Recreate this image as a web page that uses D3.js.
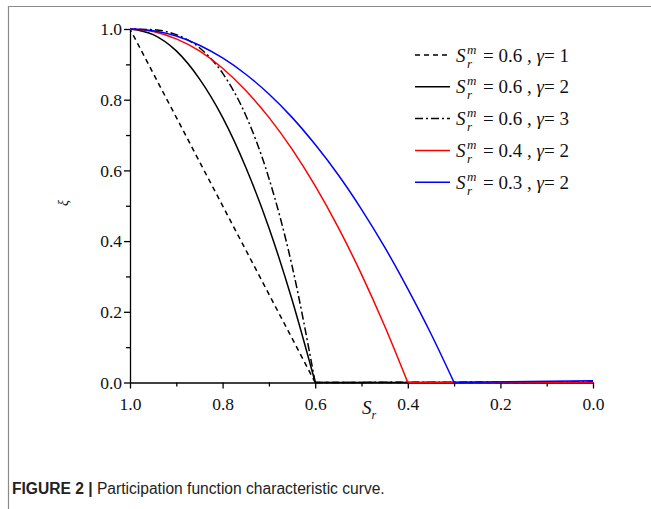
<!DOCTYPE html>
<html>
<head>
<meta charset="utf-8">
<script src="https://cdn.jsdelivr.net/npm/d3@7/dist/d3.min.js"></script>
<style>
  body { margin: 0; background: #fff; }
  svg { display: block; }
  .serif, .serif text { font-family: "Liberation Serif", "Times New Roman", serif; }
  .sans { font-family: "Liberation Sans", Arial, sans-serif; }
</style>
</head>
<body>
<div id="chart"></div>
<script>
// values
var srGrid = [1.0, 0.95, 0.9, 0.85, 0.8, 0.75, 0.7, 0.65, 0.6, 0.55, 0.5, 0.45, 0.4, 0.35, 0.3, 0.0];

var seriesA = [1.0, null, null, null, null, null, null, null, 0.0, null, null, null, null, null, null, 0.0];           // Srm 0.6, g=1
var seriesB = [1.0, 0.984, 0.938, 0.859, 0.75, 0.609, 0.438, 0.234, 0.0, null, null, null, null, null, null, 0.0];  // Srm 0.6, g=2
var seriesC = [1.0, 0.998, 0.984, 0.947, 0.875, 0.756, 0.578, 0.33, 0.0, null, null, null, null, null, null, 0.002]; // Srm 0.6, g=3
var seriesD = [1.0, 0.993, 0.972, 0.938, 0.889, 0.826, 0.75, 0.66, 0.556, 0.438, 0.306, 0.16, 0.0, null, null, 0.0];   // Srm 0.4, g=2
var seriesE = [1.0, 0.995, 0.98, 0.954, 0.918, 0.872, 0.816, 0.75, 0.673, 0.587, 0.49, 0.383, 0.265, 0.138, 0.0, 0.005]; // Srm 0.3, g=2

var srm = [0.6, 0.6, 0.6, 0.4, 0.3];
var srmLabels = ["0.6", "0.6", "0.6", "0.4", "0.3"];
var gammaLabels = ["1", "2", "3", "2", "2"];
var colors = ["#000", "#000", "#000", "#ff0000", "#0000ff"];
var dashes = ["5,4", null, "8,3,2,3", null, null];

var xTicks = [1.0, 0.8, 0.6, 0.4, 0.2, 0.0];
var yTicks = [0.0, 0.2, 0.4, 0.6, 0.8, 1.0];

var width = 651, height = 509;
var svg = d3.select("#chart").append("svg")
  .attr("width", width).attr("height", height);

// frame
svg.append("path")
  .attr("d", "M8.5," + height + "V6.5H" + width)
  .attr("fill", "none").attr("stroke", "#8a8a8a").attr("stroke-width", 1.2);

var x = d3.scaleLinear().domain([1, 0]).range([130, 593]);
var y = d3.scaleLinear().domain([0, 1]).range([382.5, 29]);

var xAxis = svg.append("g")
  .attr("class", "serif")
  .attr("transform", "translate(0," + y(0) + ")")
  .call(d3.axisBottom(x).tickValues(xTicks).tickSize(6).tickSizeOuter(0).tickFormat(d3.format(".1f")));
var xMinor = svg.append("g")
  .attr("transform", "translate(0," + y(0) + ")")
  .call(d3.axisBottom(x).tickValues([0.9, 0.7, 0.5, 0.3, 0.1]).tickSize(4).tickSizeOuter(0).tickFormat(""));
xMinor.select(".domain").remove();

var yAxis = svg.append("g")
  .attr("class", "serif")
  .attr("transform", "translate(" + x(1) + ",0)")
  .call(d3.axisLeft(y).tickValues(yTicks).tickSize(6).tickSizeOuter(0).tickFormat(d3.format(".1f")));
var yMinor = svg.append("g")
  .attr("transform", "translate(" + x(1) + ",0)")
  .call(d3.axisLeft(y).tickValues([0.1, 0.3, 0.5, 0.7, 0.9]).tickSize(4).tickSizeOuter(0).tickFormat(""));
yMinor.select(".domain").remove();

svg.selectAll(".domain, .tick line").attr("stroke", "#000").attr("stroke-width", 1.3);
svg.selectAll(".tick text").style("font-size", "17.5px").attr("fill", "#111");
xAxis.selectAll(".tick text").attr("dy", "1.05em");
yAxis.selectAll(".tick text").attr("x", -8);

// curves
var all = [seriesA, seriesB, seriesC, seriesD, seriesE];
var curveGen = d3.line().x(d => x(d[0])).y(d => y(d[1])).curve(d3.curveMonotoneX);
var flatGen = d3.line().x(d => x(d[0])).y(d => y(d[1]));

all.forEach(function(vals, i) {
  var pts = srGrid.map((s, k) => [s, vals[k]]).filter(p => p[1] !== null);
  var head = pts.filter(p => p[0] >= srm[i]).reverse();
  var tail = pts.filter(p => p[0] <= srm[i]);
  var g = svg.append("g")
    .attr("fill", "none")
    .attr("stroke", colors[i])
    .attr("stroke-width", 1.5)
    .attr("stroke-dasharray", dashes[i]);
  g.append("path").attr("d", (i === 0 ? flatGen : curveGen)(head));
  g.append("path").attr("d", flatGen(tail));
});

// legend
var legend = svg.append("g").attr("class", "serif");
all.forEach(function(vals, i) {
  var cy = 55 + i * 31.8;
  legend.append("line")
    .attr("x1", 415).attr("x2", 450).attr("y1", cy).attr("y2", cy)
    .attr("stroke", colors[i]).attr("stroke-width", 1.5)
    .attr("stroke-dasharray", dashes[i]);
  var t = legend.append("text")
    .attr("y", cy + 6.5)
    .style("font-size", "19px").attr("fill", "#111");
  t.append("tspan").attr("x", 456).attr("font-style", "italic").text("S");
  t.append("tspan").attr("x", 467).attr("dy", -8).style("font-size", "13px").attr("font-style", "italic").text("m");
  t.append("tspan").attr("x", 467).attr("dy", 14).style("font-size", "13px").attr("font-style", "italic").text("r");
  t.append("tspan").attr("x", 483).attr("dy", -6).text("= " + srmLabels[i] + " , ");
  t.append("tspan").attr("font-style", "italic").text("\u03b3");
  t.append("tspan").text("= " + gammaLabels[i]);
});

// axis titles
var xl = svg.append("text")
  .attr("class", "serif")
  .attr("x", 362).attr("y", 414)
  .style("font-size", "19px").attr("font-style", "italic").attr("fill", "#111");
xl.append("tspan").text("S");
xl.append("tspan").attr("dy", 5).style("font-size", "12px").text("r");

svg.append("text")
  .attr("class", "serif")
  .attr("transform", "translate(68,203) rotate(-90)")
  .attr("text-anchor", "middle")
  .style("font-size", "14px").attr("font-style", "italic").attr("fill", "#111")
  .text("\u03be");

// caption
var cap = svg.append("text")
  .attr("class", "sans")
  .attr("x", 12).attr("y", 494)
  .style("font-size", "15.6px").attr("fill", "#222");
cap.append("tspan").attr("font-weight", "bold").text("FIGURE 2 | ");
cap.append("tspan").text("Participation function characteristic curve.");
</script>
</body>
</html>
